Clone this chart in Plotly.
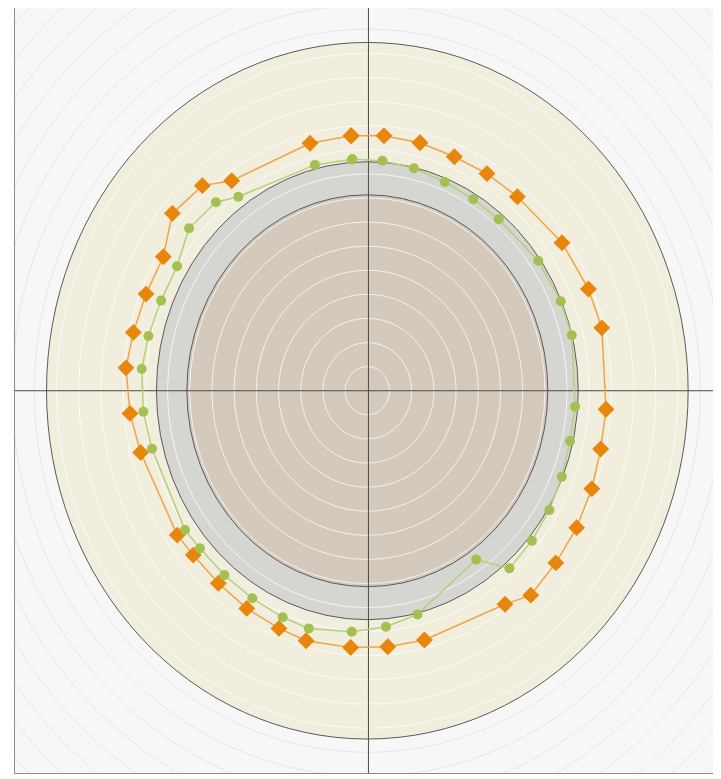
import plotly.graph_objects as go

# ---- data (units of the chart's own axes) ----
orange_x = [-0.73, 0.75, 2.37, 3.92, 5.39, 6.76, 8.77, 9.96, 10.56, 10.75, 10.51, 10.11, 9.43, 8.49,
            7.36, 6.20, 2.57, 0.92, -0.75, -2.76, -3.98, -5.43, -6.71, -7.84, -8.56, -10.21, -10.69,
            -10.87, -10.54, -9.97, -9.19, -8.78, -7.43, -6.11, -2.58]
orange_y = [10.58, 10.58, 10.29, 9.71, 9.01, 8.05, 6.14, 4.22, 2.61, -0.77, -2.42, -4.07, -5.68, -7.14,
            -8.48, -8.86, -10.34, -10.62, -10.65, -10.37, -9.86, -9.03, -7.99, -6.82, -5.99, -2.56, -0.94,
            0.95, 2.42, 4.01, 5.56, 7.36, 8.51, 8.71, 10.27]

green_x = [-0.68, 0.68, 2.10, 3.49, 4.77, 5.92, 7.70, 8.71, 9.21, 9.36, 9.13, 8.76, 8.20, 7.41,
           6.40, 4.90, 2.26, 0.84, -0.70, -2.64, -3.81, -5.18, -6.44, -7.54, -8.21, -9.70, -10.09,
           -10.16, -9.86, -9.29, -8.57, -8.03, -6.82, -5.81, -2.36]
green_y = [9.60, 9.54, 9.23, 8.66, 7.95, 7.12, 5.39, 3.71, 2.30, -0.66, -2.09, -3.57, -4.95, -6.22,
           -7.37, -7.00, -9.28, -9.79, -10.00, -9.86, -9.40, -8.61, -7.65, -6.54, -5.78, -2.41, -0.87,
           0.90, 2.27, 3.74, 5.17, 6.74, 7.82, 8.05, 9.37]

zone_radii = [14.45, 9.5, 8.13]          # outer band, grey band, inner core
zone_fills = ["#f1eedd", "#d5d6d1", "#d3c9bc"]
grid_radii = list(range(1, 23))
x_range = [-15.87, 15.75]
y_range = [-15.86, 15.88]

# ---- figure ----
fig = go.Figure()

shapes = []
for r, c in zip(zone_radii, zone_fills):
    shapes.append(dict(type="circle", xref="x", yref="y", x0=-r, x1=r, y0=-r, y1=r,
                       fillcolor=c, line=dict(width=0), layer="below"))
for r in grid_radii:
    col = "rgba(255,255,255,0.75)" if r < zone_radii[0] else "#e6e6e6"
    shapes.append(dict(type="circle", xref="x", yref="y", x0=-r, x1=r, y0=-r, y1=r,
                       line=dict(color=col, width=1), layer="below"))
for r in zone_radii:
    shapes.append(dict(type="circle", xref="x", yref="y", x0=-r, x1=r, y0=-r, y1=r,
                       line=dict(color="#5a5a5a", width=1), layer="below"))
shapes.append(dict(type="line", xref="x", yref="y", x0=x_range[0], x1=x_range[1], y0=0, y1=0,
                   line=dict(color="#4a4a4a", width=1), layer="below"))
shapes.append(dict(type="line", xref="x", yref="y", x0=0.05, x1=0.05, y0=y_range[0], y1=y_range[1],
                   line=dict(color="#4a4a4a", width=1), layer="below"))

fig.add_trace(go.Scatter(
    x=orange_x + orange_x[:1], y=orange_y + orange_y[:1], mode="lines+markers",
    line=dict(color="#f0a444", width=1.5),
    marker=dict(symbol="diamond", size=13, color="#e8860c", line=dict(width=0)),
    showlegend=False, hoverinfo="skip"))
fig.add_trace(go.Scatter(
    x=green_x + green_x[:1], y=green_y + green_y[:1], mode="lines+markers",
    line=dict(color="#b6cf7e", width=1.5),
    marker=dict(symbol="circle", size=10, color="#a2c150", line=dict(width=0)),
    showlegend=False, hoverinfo="skip"))

axis_common = dict(showgrid=False, zeroline=False, showticklabels=False, ticks="",
                   showline=True, mirror=True, linecolor="#8c8c8c", linewidth=1)
fig.update_layout(
    width=713, height=771,
    margin=dict(l=7, r=4, t=0, b=6, pad=0),
    paper_bgcolor="white", plot_bgcolor="#f7f7f7",
    xaxis=dict(range=x_range, **axis_common),
    yaxis=dict(range=y_range, **axis_common),
    shapes=shapes,
)

fig.write_html("out.html")
